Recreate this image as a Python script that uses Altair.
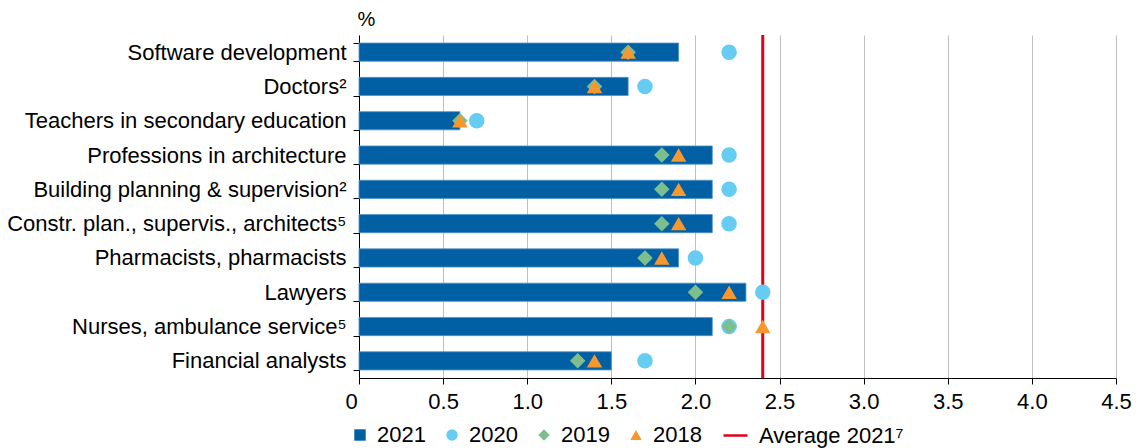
import altair as alt
import pandas as pd

categories = [
    "Software development",
    "Doctors²",
    "Teachers in secondary education",
    "Professions in architecture",
    "Building planning & supervision²",
    "Constr. plan., supervis., architects⁵",
    "Pharmacists, pharmacists",
    "Lawyers",
    "Nurses, ambulance service⁵",
    "Financial analysts",
]
v2021 = [1.9, 1.6, 0.6, 2.1, 2.1, 2.1, 1.9, 2.3, 2.1, 1.5]
v2020 = [2.2, 1.7, 0.7, 2.2, 2.2, 2.2, 2.0, 2.4, 2.2, 1.7]
v2019 = [1.6, 1.4, 0.6, 1.8, 1.8, 1.8, 1.7, 2.0, 2.2, 1.3]
v2018 = [1.6, 1.4, 0.6, 1.9, 1.9, 1.9, 1.8, 2.2, 2.4, 1.4]
average_2021 = 2.4

years = ["2021", "2020", "2019", "2018"]
year_colors = ["#0060A3", "#66CCF2", "#7DBE8E", "#F7972F"]
year_shapes = ["square", "circle", "diamond", "triangle-up"]
avg_label = "Average 2021⁷"
avg_color = "#E3001B"

bars = pd.DataFrame({"cat": categories, "value": v2021, "series": "2021"})
points = pd.concat(
    [
        pd.DataFrame({"cat": categories, "value": v2020, "series": "2020", "order": 1}),
        pd.DataFrame({"cat": categories, "value": v2019, "series": "2019", "order": 2}),
        pd.DataFrame({"cat": categories, "value": v2018, "series": "2018", "order": 3}),
    ],
    ignore_index=True,
)
avg = pd.DataFrame({"value": [average_2021], "series": [avg_label]})

FONT = "Liberation Sans"
FS = 22

color_scale = alt.Scale(domain=years, range=year_colors)
shape_scale = alt.Scale(domain=years, range=year_shapes)
year_legend = alt.Legend(
    title=None,
    orient="none",
    direction="horizontal",
    legendX=-10,
    legendY=389,
    labelFont=FONT,
    labelFontSize=FS,
    labelColor="#000000",
    symbolSize=130,
    symbolOpacity=1,
    symbolStrokeWidth=0,
    columnPadding=15,
    labelOffset=6,
)
avg_legend = alt.Legend(
    title=None,
    orient="none",
    direction="horizontal",
    legendX=363,
    legendY=387,
    labelFont=FONT,
    labelFontSize=FS,
    labelColor="#000000",
    symbolType="stroke",
    symbolSize=576,
    symbolStrokeWidth=2.5,
    labelOffset=10,
)

x_enc = alt.X(
    "value:Q",
    scale=alt.Scale(domain=[0, 4.5], nice=False, zero=True),
    axis=alt.Axis(
        title=None,
        values=[0, 0.5, 1, 1.5, 2, 2.5, 3, 3.5, 4, 4.5],
        labelExpr="datum.value == 0 ? '0' : format(datum.value, '.1f')",
        grid=True,
        gridColor="#BFBFBF",
        gridWidth=1,
        domainColor="#000000",
        tickColor="#000000",
        tickSize=6,
        labelFont=FONT,
        labelFontSize=FS,
        labelColor="#000000",
        labelPadding=7,
        labelFlush=False,
        labelOverlap=False,
        labelOffset={"condition": {"test": "datum.value === 0", "value": -8}, "value": 0},
    ),
)
y_enc = alt.Y(
    "cat:N",
    sort=categories,
    scale=alt.Scale(domain=categories, paddingInner=0.47, paddingOuter=0.235),
    axis=alt.Axis(
        title="%",
        titleAngle=0,
        titleAlign="left",
        titleBaseline="bottom",
        titleX=-2,
        titleY=-6,
        titleFont=FONT,
        titleFontSize=FS - 2,
        titleFontWeight="normal",
        titleColor="#000000",
        tickBand="extent",
        domainColor="#000000",
        tickColor="#000000",
        tickSize=6,
        labelFont=FONT,
        labelFontSize=FS,
        labelColor="#000000",
        labelPadding=7,
        labelLimit=400,
    ),
)

bar_layer = alt.Chart(bars).mark_bar(stroke="#4F93C9", strokeWidth=0.8).encode(
    x=x_enc,
    y=y_enc,
    color=alt.Color("series:N", scale=color_scale, legend=year_legend),
)

rule_layer = alt.Chart(avg).mark_rule(strokeWidth=3).encode(
    x=alt.X("value:Q"),
    stroke=alt.Stroke(
        "series:N",
        scale=alt.Scale(domain=[avg_label], range=[avg_color]),
        legend=avg_legend,
    ),
)

point_layer = alt.Chart(points).mark_point(filled=True, opacity=1, size=240).encode(
    x=alt.X("value:Q"),
    y=alt.Y("cat:N", sort=categories),
    color=alt.Color("series:N", scale=color_scale, legend=year_legend),
    shape=alt.Shape("series:N", scale=shape_scale, legend=year_legend),
    order=alt.Order("order:Q"),
)

chart = (
    alt.layer(bar_layer, rule_layer, point_layer)
    .properties(
        width=757,
        height=343,
        autosize=alt.AutoSizeParams(type="none"),
        padding={"left": 359, "top": 35, "right": 23, "bottom": 70},
        background="#FFFFFF",
    )
    .configure_view(stroke=None)
)

chart.save("out.html", embed_options={"renderer": "svg", "actions": False})
